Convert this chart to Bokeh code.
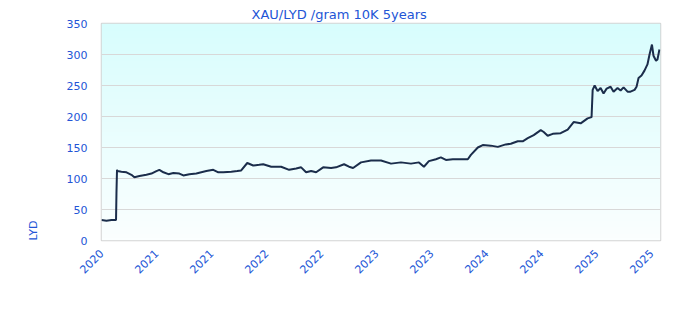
import numpy as np
from bokeh.plotting import figure
from bokeh.models import Range1d, FixedTicker, Title
from bokeh.embed import file_html
from bokeh.resources import INLINE

title_text = "XAU/LYD /gram 10K 5years"
y_label = "LYD"

# decimal-year positions of the x ticks and their labels
tick_years = [2020.3, 2020.8, 2021.3, 2021.8, 2022.3, 2022.8, 2023.3, 2023.8, 2024.3, 2024.8, 2025.3]
tick_labels = ["2020", "2021", "2021", "2022", "2022", "2023", "2023", "2024", "2024", "2025", "2025"]
y_ticks = [0, 50, 100, 150, 200, 250, 300, 350]

# series: date (decimal year) and price LYD/gram
years = [2020.300, 2020.345, 2020.391, 2020.427, 2020.432, 2020.436, 2020.441, 2020.445,
         2020.481, 2020.527, 2020.572, 2020.599, 2020.645, 2020.708, 2020.754, 2020.799,
         2020.826, 2020.863, 2020.908, 2020.953, 2021.008, 2021.044, 2021.099, 2021.162,
         2021.207, 2021.253, 2021.316, 2021.362, 2021.407, 2021.480, 2021.534, 2021.570,
         2021.625, 2021.679, 2021.734, 2021.770, 2021.843, 2021.933, 2022.006, 2022.070,
         2022.115, 2022.160, 2022.206, 2022.251, 2022.315, 2022.387, 2022.432, 2022.505,
         2022.550, 2022.587, 2022.659, 2022.750, 2022.841, 2022.932, 2023.022, 2023.113,
         2023.186, 2023.231, 2023.276, 2023.340, 2023.385, 2023.431, 2023.494, 2023.567,
         2023.630, 2023.658, 2023.721, 2023.766, 2023.839, 2023.903, 2023.975, 2024.021,
         2024.084, 2024.129, 2024.175, 2024.229, 2024.293, 2024.320, 2024.356, 2024.402,
         2024.474, 2024.538, 2024.592, 2024.656, 2024.719, 2024.755, 2024.765, 2024.783,
         2024.810, 2024.837, 2024.864, 2024.892, 2024.928, 2024.955, 2024.991, 2025.019,
         2025.046, 2025.082, 2025.109, 2025.146, 2025.164, 2025.182, 2025.209, 2025.236,
         2025.263, 2025.282, 2025.304, 2025.318, 2025.341, 2025.354, 2025.372]
prices = [33, 32, 33, 33, 33, 76, 114, 112,
          111, 110, 106, 102, 104, 106, 108, 112,
          114, 110, 107, 109, 108, 105, 107, 108,
          110, 112, 114, 110, 110, 111, 112, 113,
          125, 121, 122, 123, 119, 119, 114, 116,
          118, 110, 112, 110, 118, 117, 118, 123,
          119, 117, 126, 129, 129, 124, 126, 124,
          126, 119, 128, 131, 134, 130, 131, 131,
          131, 138, 150, 154, 153, 151, 155, 156,
          160, 160, 165, 170, 178, 175, 169, 172,
          173, 179, 191, 189, 197, 199, 243, 250,
          241, 246, 237, 245, 248, 240, 246, 242,
          247, 240, 240, 243, 248, 262, 266, 274,
          284, 300, 316, 298, 290, 292, 308]

BLUE = "#2255d6"
FONT = "DejaVu Sans"

x0, x1 = 2020.3, 2020.3 + 560 / 110.2
p = figure(width=680, height=320, output_backend="svg", toolbar_location=None,
           x_range=Range1d(x0, x1), y_range=Range1d(0, 350),
           min_border_left=100, min_border_right=20, min_border_top=23, min_border_bottom=80)
p.background_fill_color = "white"
p.border_fill_color = "white"
p.outline_line_color = "#d4d4d4"
p.outline_line_width = 1.5

# vertical background gradient
n = 64
top = np.array([216, 253, 253])
bot = np.array([251, 255, 255])
t = np.linspace(0, 1, n)[:, None]
cols = (bot + (top - bot) * t).astype(np.uint32)
img = np.zeros((n, 1), dtype=np.uint32)
view = img.view(dtype=np.uint8).reshape((n, 1, 4))
view[:, 0, 0] = cols[:, 0]
view[:, 0, 1] = cols[:, 1]
view[:, 0, 2] = cols[:, 2]
view[:, 0, 3] = 255
p.image_rgba(image=[img], x=x0, y=0, dw=x1 - x0, dh=350, level="image")

p.line(years, prices, line_color="#1b2d4b", line_width=2)

p.xgrid.visible = False
p.ygrid.grid_line_color = "#d8d8d8"
p.ygrid.grid_line_width = 1.2
p.ygrid.level = "underlay"

p.yaxis.ticker = FixedTicker(ticks=y_ticks)
p.xaxis.ticker = FixedTicker(ticks=tick_years)
p.xaxis.major_label_overrides = {tv: lab for tv, lab in zip(tick_years, tick_labels)}
p.xaxis.major_label_orientation = np.pi / 4
for ax in (p.xaxis, p.yaxis):
    ax.axis_line_color = None
    ax.major_tick_line_color = None
    ax.minor_tick_line_color = None
    ax.major_label_text_color = BLUE
    ax.major_label_text_font = FONT
    ax.major_label_text_font_size = "11px"
p.yaxis.major_label_standoff = 8
p.xaxis.major_label_standoff = 5

p.title.text = title_text
p.title.align = "left"
p.title.offset = 150
p.title.text_font = FONT
p.title.text_font_size = "13px"
p.title.text_font_style = "normal"
p.title.text_color = BLUE
p.title.standoff = 4

p.add_layout(Title(text=y_label, align="left", text_font=FONT, text_font_size="11px",
                   text_font_style="normal", text_color=BLUE, standoff=48), "left")

open("out.html", "w").write(file_html(p, INLINE))
